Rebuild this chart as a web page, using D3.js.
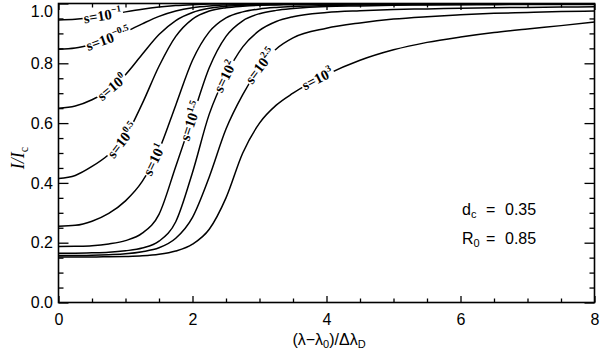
<!DOCTYPE html>
<html><head><meta charset="utf-8">
<script src="https://cdn.jsdelivr.net/npm/d3@7"></script>
<style>body{margin:0;background:#fff} svg{display:block}</style>
</head><body>
<svg id="chart" width="600" height="351"></svg>
<script>
// ---------- data ----------
const xValues = [0,0.25,0.5,0.75,1,1.25,1.5,1.75,2,2.25,2.5,2.75,3,3.25,3.5,4,4.5,5,5.5,6,6.5,7,7.5,8];
const exponents = ["−1","−0.5","0","0.5","1","1.5","2","2.5","3"];
const sM10 = [0.945,0.947,0.953,0.962,0.972,0.981,0.988,0.993,0.996,0.998,0.999,0.999,1,1,1,1,1,1,1,1,1,1,1,1];
const sM05 = [0.847,0.851,0.864,0.882,0.905,0.932,0.957,0.975,0.986,0.992,0.995,0.997,0.998,0.999,0.999,1,1,1,1,1,1,1,1,1];
const s00  = [0.65,0.657,0.678,0.71,0.762,0.83,0.896,0.943,0.97,0.984,0.991,0.994,0.996,0.997,0.998,0.999,0.999,1,1,1,1,1,1,1];
const s05  = [0.415,0.425,0.455,0.495,0.555,0.665,0.79,0.89,0.948,0.975,0.986,0.991,0.994,0.995,0.996,0.997,0.998,0.998,0.999,0.999,0.999,1,1,1];
const s10  = [0.255,0.258,0.272,0.298,0.34,0.405,0.51,0.66,0.81,0.905,0.952,0.972,0.982,0.987,0.99,0.993,0.995,0.996,0.997,0.997,0.998,0.998,0.998,0.999];
const s15  = [0.187,0.188,0.19,0.196,0.207,0.232,0.295,0.455,0.62,0.785,0.89,0.942,0.966,0.977,0.983,0.99,0.992,0.994,0.995,0.996,0.996,0.997,0.997,0.997];
const s20  = [0.165,0.165,0.166,0.168,0.173,0.182,0.205,0.27,0.435,0.63,0.76,0.855,0.91,0.94,0.956,0.97,0.976,0.98,0.982,0.984,0.986,0.987,0.988,0.989];
const s25  = [0.157,0.157,0.158,0.16,0.163,0.17,0.183,0.215,0.285,0.42,0.58,0.695,0.785,0.848,0.885,0.917,0.935,0.948,0.956,0.962,0.967,0.97,0.973,0.975];
const s30  = [0.152,0.152,0.152,0.153,0.154,0.156,0.161,0.172,0.195,0.245,0.35,0.5,0.6,0.66,0.7,0.762,0.81,0.845,0.87,0.888,0.903,0.915,0.926,0.938];
const seriesList = [sM10,sM05,s00,s05,s10,s15,s20,s25,s30];
const labelX = [0.66,0.74,0.8,0.96,1.43,1.98,2.49,3.02,3.87];
const xMajorTicks = [0,2,4,6,8];
const xMinorTicks = [0.5,1,1.5,2.5,3,3.5,4.5,5,5.5,6.5,7,7.5];
const yMajorTicks = [0,0.2,0.4,0.6,0.8,1.0];
const yMinorTicks = [0.05,0.1,0.15,0.25,0.3,0.35,0.45,0.5,0.55,0.65,0.7,0.75,0.85,0.9,0.95];
const yTickLabels = ["0.0","0.2","0.4","0.6","0.8","1.0"];
const annotations = [["d","c","0.35"],["R","0","0.85"]];

// ---------- chart ----------
const svg = d3.select("#chart");
const L = 58.5, R = 594.5, T = 3.5, B = 302.5;
const x = d3.scaleLinear().domain([0,8]).range([L,R]);
const y = d3.scaleLinear().domain([0,1]).range([B,T]);
const sans = "'Liberation Sans', Arial, Helvetica, sans-serif";
const serif = "'Liberation Serif', 'Times New Roman', serif";

svg.append("defs").append("clipPath").attr("id","clip")
  .append("rect").attr("x",L).attr("y",T).attr("width",R-L).attr("height",B-T);

function styleAxis(g){
  g.select(".domain").remove();
  g.selectAll("line").attr("stroke","#000").attr("stroke-width",1.3);
  g.selectAll("text").attr("font-family",sans).attr("font-size",16).attr("fill","#000");
}
// bottom
svg.append("g").attr("transform",`translate(0,${B})`)
  .call(d3.axisBottom(x).tickValues(xMinorTicks).tickSizeInner(-4).tickSizeOuter(0).tickFormat(""))
  .call(styleAxis);
svg.append("g").attr("transform",`translate(0,${B})`)
  .call(d3.axisBottom(x).tickValues(xMajorTicks).tickSizeInner(-6.5).tickSizeOuter(0).tickPadding(11).tickFormat(d3.format("d")))
  .call(styleAxis);
// top
svg.append("g").attr("transform",`translate(0,${T})`)
  .call(d3.axisTop(x).tickValues(xMinorTicks).tickSizeInner(-4).tickSizeOuter(0).tickFormat(""))
  .call(styleAxis);
svg.append("g").attr("transform",`translate(0,${T})`)
  .call(d3.axisTop(x).tickValues(xMajorTicks).tickSizeInner(-6.5).tickSizeOuter(0).tickFormat(""))
  .call(styleAxis);
// left
svg.append("g").attr("transform",`translate(${L},0)`)
  .call(d3.axisLeft(y).tickValues(yMinorTicks).tickSizeInner(-5).tickSizeOuter(0).tickFormat(""))
  .call(styleAxis);
const yl = svg.append("g").attr("transform",`translate(${L},0)`)
  .call(d3.axisLeft(y).tickValues(yMajorTicks).tickSizeInner(-10).tickSizeOuter(0).tickPadding(5.5)
    .tickFormat((d,i)=>yTickLabels[i]))
  .call(styleAxis);
yl.selectAll("text").filter(d=>d===1).attr("transform","translate(0,7.5)");
// right
svg.append("g").attr("transform",`translate(${R},0)`)
  .call(d3.axisRight(y).tickValues(yMinorTicks).tickSizeInner(-5).tickSizeOuter(0).tickFormat(""))
  .call(styleAxis);
svg.append("g").attr("transform",`translate(${R},0)`)
  .call(d3.axisRight(y).tickValues(yMajorTicks).tickSizeInner(-10).tickSizeOuter(0).tickFormat(""))
  .call(styleAxis);

// curves
const line = d3.line().x((d,i)=>x(xValues[i])).y(d=>y(d)).curve(d3.curveMonotoneX);
const curveG = svg.append("g").attr("clip-path","url(#clip)");
const paths = seriesList.map(s => curveG.append("path").datum(s).attr("d",line)
  .attr("fill","none").attr("stroke","#000").attr("stroke-width",1.5).node());

// inline labels
const labG = svg.append("g");
paths.forEach((p,k)=>{
  const len = p.getTotalLength();
  const tx = x(labelX[k]);
  let best = 0, bd = 1e9;
  for(let l=0;l<=len;l+=0.5){ const pt=p.getPointAtLength(l); const d=Math.abs(pt.x-tx); if(d<bd){bd=d;best=l;} }
  const c = p.getPointAtLength(best);
  const a = p.getPointAtLength(Math.max(0,best-5)), b = p.getPointAtLength(Math.min(len,best+5));
  const ang = Math.atan2(b.y-a.y,b.x-a.x)*180/Math.PI;
  const g = labG.append("g").attr("transform",`translate(${c.x},${c.y}) rotate(${ang})`);
  const rect = g.append("rect").attr("fill","#fff");
  const t = g.append("text").attr("text-anchor","middle").attr("font-family",serif)
    .attr("font-weight","bold").attr("font-size",14.5).attr("y",4.5);
  t.append("tspan").text("s=10");
  t.append("tspan").attr("font-size",9.5).attr("dy",-6).text(exponents[k]);
  const bb = t.node().getBBox();
  rect.attr("x",bb.x-1).attr("y",bb.y+1).attr("width",bb.width+2).attr("height",bb.height-2);
});

// frame
svg.append("rect").attr("x",L).attr("y",T).attr("width",R-L).attr("height",B-T)
  .attr("fill","none").attr("stroke","#000").attr("stroke-width",1.6);

// axis titles
const xt = svg.append("text").attr("x",329).attr("y",345).attr("text-anchor","middle")
  .attr("font-family",sans).attr("font-size",16);
xt.append("tspan").text("(λ−λ");
xt.append("tspan").attr("font-size",11).attr("dy",3).text("0");
xt.append("tspan").attr("dy",-3).text(")/Δλ");
xt.append("tspan").attr("font-size",11).attr("dy",3).text("D");

const ytitle = svg.append("text").attr("transform","translate(24,158) rotate(-90)")
  .attr("text-anchor","middle").attr("font-family",serif).attr("font-style","italic").attr("font-size",18);
ytitle.append("tspan").text("I/I");
ytitle.append("tspan").attr("font-size",12).attr("dy",4).attr("font-style","normal").text("c");

// annotations
annotations.forEach((an,i)=>{
  const t = svg.append("text").attr("x",462).attr("y",214.5+i*29.5)
    .attr("font-family",sans).attr("font-size",16);
  t.append("tspan").text(an[0]);
  t.append("tspan").attr("font-size",11).attr("dy",3).text(an[1]);
  t.append("tspan").attr("x",486).attr("dy",-3).text("=");
  t.append("tspan").attr("x",505).text(an[2]);
});
</script>
</body></html>
